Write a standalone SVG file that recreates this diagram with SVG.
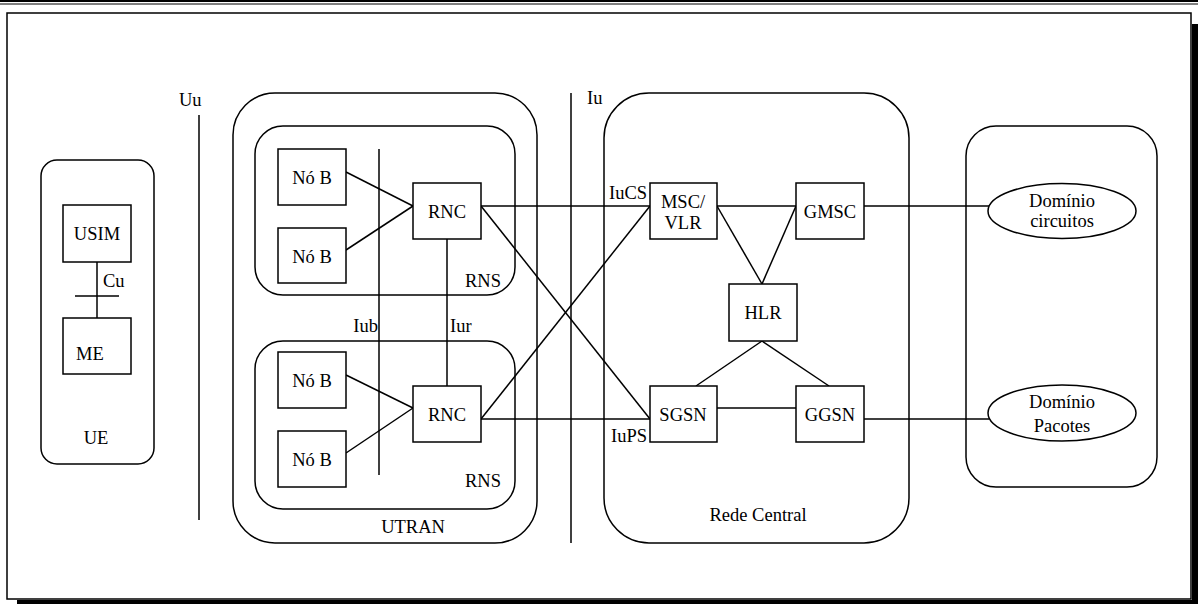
<svg xmlns="http://www.w3.org/2000/svg" width="1198" height="604" viewBox="0 0 1198 604">
<style>
.s{fill:none;stroke:#000;stroke-width:1.5}
.b{fill:#fff;stroke:#000;stroke-width:1.5}
.l{stroke:#000;stroke-width:1.5;fill:none}
text{font-family:"Liberation Serif","Times New Roman",serif;font-size:18.5px;fill:#000}
.m{text-anchor:middle}
.e{text-anchor:end}
</style>
<rect width="1198" height="604" fill="#fff"/>
<g id="frame">
<line x1="0" y1="1" x2="1198" y2="1" stroke="#000" stroke-width="2"/>
<line x1="0" y1="4" x2="1198" y2="4" stroke="#000" stroke-width="1.2"/>
<rect x="1192" y="24" width="6" height="580" fill="#000"/>
<rect x="17" y="600" width="1181" height="4" fill="#000"/>
<rect x="7" y="13" width="1184" height="586" class="s"/>
</g>
<g id="UE"><rect x="41" y="160" width="113" height="304" rx="16" class="s"/><text x="96" y="444" class="m">UE</text></g>
<g id="UTRAN"><rect x="233" y="93" width="304" height="450" rx="42" class="s"/><text x="413" y="533" class="m">UTRAN</text></g>
<g id="RNS1"><rect x="255" y="126" width="260" height="169" rx="28" class="s"/><text x="465" y="287">RNS</text></g>
<g id="RNS2"><rect x="255" y="341" width="260" height="168" rx="28" class="s"/><text x="465" y="487">RNS</text></g>
<g id="core"><rect x="604" y="93" width="305" height="450" rx="45" class="s"/><text x="758" y="521" class="m">Rede Central</text></g>
<g id="domains"><rect x="966" y="126" width="191" height="361" rx="30" class="s"/></g>
<g id="connectors">
<line x1="97" y1="262" x2="97" y2="318" class="l"/>
<line x1="75" y1="296" x2="119" y2="296" class="l"/>
<line x1="199" y1="115" x2="199" y2="520" class="l"/>
<line x1="379" y1="149" x2="379" y2="475" class="l"/>
<line x1="447" y1="239" x2="447" y2="386" class="l"/>
<line x1="571" y1="93" x2="571" y2="543" class="l"/>
<line x1="346" y1="172" x2="413" y2="206" class="l"/>
<line x1="346" y1="250" x2="413" y2="206" class="l"/>
<line x1="346" y1="375" x2="413" y2="408" class="l"/>
<line x1="346" y1="453" x2="413" y2="408" class="l"/>
<line x1="481" y1="206" x2="650" y2="206" class="l"/>
<line x1="481" y1="206" x2="650" y2="419" class="l"/>
<line x1="481" y1="419" x2="650" y2="419" class="l"/>
<line x1="481" y1="419" x2="650" y2="206" class="l"/>
<line x1="717" y1="206" x2="796" y2="206" class="l"/>
<line x1="717" y1="206" x2="762" y2="284" class="l"/>
<line x1="796" y1="206" x2="762" y2="284" class="l"/>
<line x1="762" y1="341" x2="696" y2="386" class="l"/>
<line x1="762" y1="341" x2="829" y2="386" class="l"/>
<line x1="717" y1="408" x2="796" y2="408" class="l"/>
<line x1="864" y1="206" x2="989" y2="206" class="l"/>
<line x1="864" y1="419" x2="989" y2="419" class="l"/>
<text x="103" y="287">Cu</text>
<text x="179" y="106">Uu</text>
<text x="587" y="104">Iu</text>
<text x="378" y="332" class="e">Iub</text>
<text x="450" y="332">Iur</text>
<text x="609" y="199">IuCS</text>
<text x="611" y="442">IuPS</text>
</g>
<g id="USIM"><rect x="63" y="205" width="68" height="57" class="b"/><text x="97" y="240" class="m">USIM</text></g>
<g id="ME"><rect x="63" y="318" width="68" height="56" class="b"/><text x="76" y="360">ME</text></g>
<g id="NoB1"><rect x="278" y="149" width="68" height="56" class="b"/><text x="312" y="184" class="m">Nó B</text></g>
<g id="NoB2"><rect x="278" y="228" width="68" height="55" class="b"/><text x="312" y="263" class="m">Nó B</text></g>
<g id="NoB3"><rect x="278" y="352" width="68" height="56" class="b"/><text x="312" y="387" class="m">Nó B</text></g>
<g id="NoB4"><rect x="278" y="431" width="68" height="56" class="b"/><text x="312" y="466" class="m">Nó B</text></g>
<g id="RNC1"><rect x="413" y="183" width="68" height="56" class="b"/><text x="447" y="218" class="m">RNC</text></g>
<g id="RNC2"><rect x="413" y="386" width="68" height="56" class="b"/><text x="447" y="421" class="m">RNC</text></g>
<g id="MSCVLR"><rect x="650" y="183" width="67" height="56" class="b"/><text x="683" y="208" class="m">MSC/</text><text x="683" y="229" class="m">VLR</text></g>
<g id="GMSC"><rect x="796" y="183" width="68" height="56" class="b"/><text x="830" y="218" class="m">GMSC</text></g>
<g id="HLR"><rect x="729" y="284" width="68" height="57" class="b"/><text x="763" y="319" class="m">HLR</text></g>
<g id="SGSN"><rect x="650" y="386" width="67" height="56" class="b"/><text x="683" y="421" class="m">SGSN</text></g>
<g id="GGSN"><rect x="796" y="386" width="68" height="56" class="b"/><text x="830" y="421" class="m">GGSN</text></g>
<g id="DomCircuitos"><ellipse cx="1062" cy="211" rx="74" ry="27.5" class="b"/><text x="1062" y="207" class="m">Domínio</text><text x="1062" y="227" class="m">circuitos</text></g>
<g id="DomPacotes"><ellipse cx="1062" cy="413" rx="74" ry="28" class="b"/><text x="1062" y="408" class="m">Domínio</text><text x="1062" y="432" class="m">Pacotes</text></g>
</svg>
